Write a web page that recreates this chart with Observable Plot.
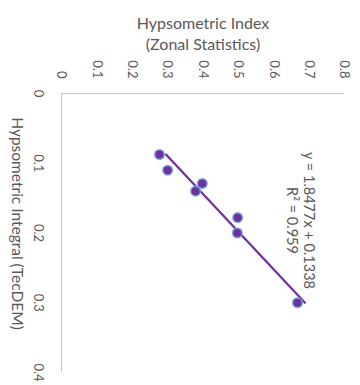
<!DOCTYPE html>
<html>
<head>
<meta charset="utf-8">
<script src="https://cdn.jsdelivr.net/npm/d3@7"></script>
<script src="https://cdn.jsdelivr.net/npm/@observablehq/plot@0.6"></script>
<style>
  html, body { margin: 0; padding: 0; background: #fff; }
</style>
</head>
<body>
<div id="chart"></div>
<script>
// Hypsometric Integral (TecDEM) – drawn on the vertical axis
const tecdem = [0.0875, 0.110, 0.129, 0.140, 0.178, 0.200, 0.300];
// Hypsometric Index (Zonal Statistics) – drawn on the horizontal axis
const zonal = [0.277, 0.300, 0.398, 0.379, 0.498, 0.497, 0.667];
// Excel trendline: zonal = slope * tecdem + intercept
const slope = 1.8477;
const intercept = 0.1338;
const r2 = 0.959;
const xTicks = [0, 0.1, 0.2, 0.3, 0.4, 0.5, 0.6, 0.7, 0.8];
const xTickLabels = ["0", "0.1", "0.2", "0.3", "0.4", "0.5", "0.6", "0.7", "0.8"];
const yTicks = [0, 0.1, 0.2, 0.3, 0.4];
const yTickLabels = ["0", "0.1", "0.2", "0.3", "0.4"];
const xTitle = "Hypsometric Index\n(Zonal Statistics)";
const yTitle = "Hypsometric Integral (TecDEM)";

const points = tecdem.map((t, i) => ({t, z: zonal[i]}));
const tExtent = d3.extent(tecdem);
const trend = tExtent.map(t => ({t, z: slope * t + intercept}));
const eqText = `y = ${slope}x + ${intercept}\nR² = ${r2}`;

const textColor = "#595959";
const font = "Lato, 'Liberation Sans', sans-serif";

const chart = Plot.plot({
  width: 360,
  height: 385,
  marginLeft: 61,
  marginTop: 93,
  marginRight: 16,
  marginBottom: 13,
  style: {fontFamily: font, color: textColor, background: "#fff", overflow: "visible"},
  x: {domain: [0, 0.8], axis: null},
  y: {domain: [0, 0.4], reverse: true, axis: null},
  marks: [
    Plot.ruleY([0], {stroke: "#C8C8C8", strokeWidth: 1}),
    Plot.ruleX([0], {stroke: "#C8C8C8", strokeWidth: 1}),
    // x tick labels (top, rotated)
    Plot.text(xTicks, {
      x: d => d, frameAnchor: "top", dy: -15, rotate: 90,
      text: (d, i) => xTickLabels[i], textAnchor: "end", lineAnchor: "middle",
      fontSize: 13, fill: textColor
    }),
    // y tick labels (left, rotated)
    Plot.text(yTicks, {
      y: d => d, frameAnchor: "left", dx: -23, rotate: 90,
      text: (d, i) => yTickLabels[i], textAnchor: "middle", lineAnchor: "middle",
      fontSize: 13, fill: textColor
    }),
    // x title
    Plot.text([xTitle], {
      frameAnchor: "top", dy: -60.5, text: d => d,
      textAnchor: "middle", lineAnchor: "middle", lineHeight: 1.3,
      fontSize: 16, fill: textColor
    }),
    // y title
    Plot.text([yTitle], {
      frameAnchor: "left", dx: -45, dy: -9.5, rotate: 90, text: d => d,
      textAnchor: "middle", lineAnchor: "middle",
      fontSize: 15.5, fill: textColor
    }),
    // trendline
    Plot.line(trend, {x: "z", y: "t", stroke: "#7030A0", strokeWidth: 2.25}),
    // points
    Plot.dot(points, {
      x: "z", y: "t", r: 4.8, fill: "#7030A0",
      stroke: "#6FA8DC", strokeWidth: 1.6, strokeOpacity: 0.85
    }),
    // equation
    Plot.text([eqText], {
      frameAnchor: "top-left", dx: 239.5, dy: 127, rotate: 90, text: d => d,
      textAnchor: "middle", lineAnchor: "middle", lineHeight: 1.15,
      fontSize: 14.5, fill: textColor
    })
  ]
});
document.getElementById("chart").appendChild(chart);
</script>
</body>
</html>
